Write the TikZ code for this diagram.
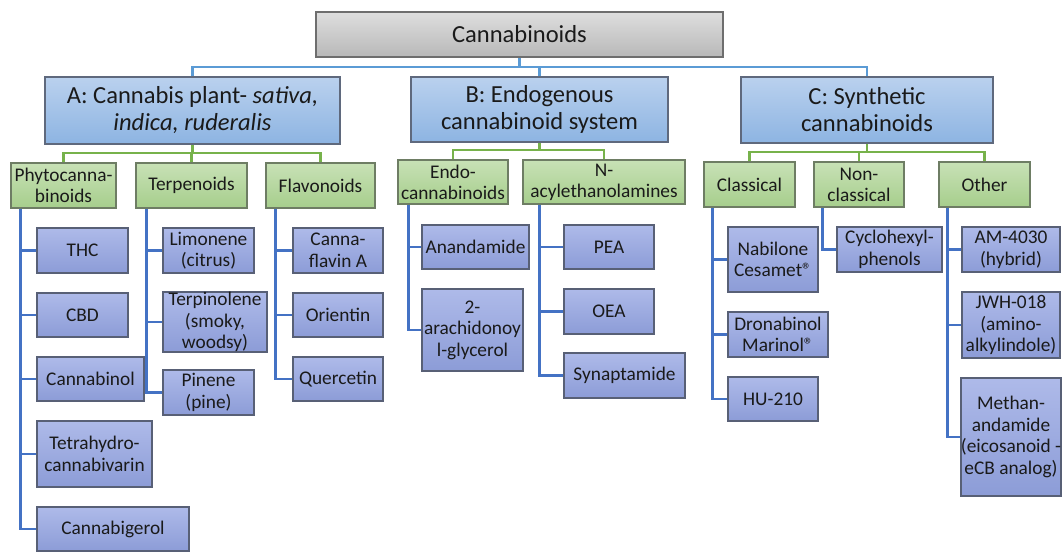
\documentclass[tikz,border=0pt]{standalone}
\usepackage{fontspec}
\setmainfont{Carlito}
\usetikzlibrary{calc,shadows}
\definecolor{txt}{HTML}{1A1A1A}
\definecolor{busblue}{HTML}{5B9BD5}
\definecolor{busgreen}{HTML}{77B24B}
\definecolor{leafline}{HTML}{4472C4}
\newcommand{\mybox}[7]{\node[#2, minimum width={(#5-#3)*0.75pt}, minimum height={(#6-#4)*0.75pt}] (#1) at ({(#3+#5)/2},{(#4+#6)/2}) {#7};}
\tikzset{
  basebox/.style={rectangle, inner sep=0pt, align=center, text=txt, line width=1pt,
    drop shadow={opacity=0.3, shadow xshift=0.9pt, shadow yshift=-0.9pt}},
  rootbox/.style={basebox, top color={rgb,255:red,222;green,222;blue,222}, bottom color={rgb,255:red,184;green,184;blue,184},
    draw={rgb,255:red,110;green,110;blue,110}, font=\fontsize{18.4}{20.3}\selectfont},
  lvlone/.style={basebox, top color={rgb,255:red,186;green,209;blue,238}, bottom color={rgb,255:red,141;green,180;blue,226},
    draw={rgb,255:red,95;green,105;blue,125}, font=\fontsize{18.4}{20.3}\selectfont},
  grp/.style={basebox, top color={rgb,255:red,200;green,225;blue,182}, bottom color={rgb,255:red,166;green,206;blue,140},
    draw={rgb,255:red,110;green,125;blue,100}, font=\fontsize{14.5}{15.6}\selectfont},
  leaf/.style={basebox, top color={rgb,255:red,174;green,186;blue,233}, bottom color={rgb,255:red,140;green,156;blue,215},
    draw={rgb,255:red,88;green,96;blue,118}, font=\fontsize{14.5}{16.2}\selectfont},
  topbus/.style={draw=busblue, line width=1.9pt},
  grpbus/.style={draw=busgreen, line width=1.9pt},
  leafbus/.style={draw=leafline, line width=1.9pt},
}
\begin{document}
\begin{tikzpicture}[x=0.75pt,y=-0.75pt]
\useasboundingbox (0,0) rectangle (1062,552);
% root and level one
\mybox{root}{rootbox}{316}{12}{723}{57}{Cannabinoids}
\mybox{A}{lvlone}{45}{77}{340}{144}{A: Cannabis plant- \textit{sativa,}\\\textit{indica, ruderalis}}
\mybox{B}{lvlone}{411}{77}{668}{142}{B: Endogenous\\cannabinoid system}
\mybox{C}{lvlone}{741}{77}{993}{143}{C: Synthetic\\cannabinoids}
% groups
\mybox{phy}{grp}{11}{163}{116}{208}{Phytocanna-\\binoids}
\mybox{ter}{grp}{136}{163}{247}{208}{Terpenoids}
\mybox{fla}{grp}{266}{163}{375}{208}{Flavonoids}
\mybox{endo}{grp}{398}{160}{508}{204}{Endo-\\cannabinoids}
\mybox{nac}{grp}{523}{160}{685}{204}{N-\\acylethanolamines}
\mybox{cla}{grp}{704}{162}{795}{207}{Classical}
\mybox{ncl}{grp}{814}{162}{904}{207}{Non-\\classical}
\mybox{oth}{grp}{939}{162}{1030}{207}{Other}
% leaves
\mybox{thc}{leaf}{37}{228}{128}{273}{THC}
\mybox{cbd}{leaf}{37}{293}{128}{337}{CBD}
\mybox{cbn}{leaf}{37}{357}{144}{401}{Cannabinol}
\mybox{thcv}{leaf}{37}{421}{152}{487}{Tetrahydro-\\cannabivarin}
\mybox{cbg}{leaf}{37}{507}{189}{551}{Cannabigerol}
\mybox{lim}{leaf}{163}{228}{254}{273}{Limonene\\(citrus)}
\mybox{terp}{leaf}{163}{293}{267}{351}{Terpinolene\\(smoky,\\woodsy)}
\mybox{pin}{leaf}{163}{370}{254}{415}{Pinene\\(pine)}
\mybox{cfa}{leaf}{293}{228}{383}{273}{Canna-\\flavin A}
\mybox{ori}{leaf}{293}{293}{383}{337}{Orientin}
\mybox{que}{leaf}{293}{357}{383}{401}{Quercetin}
\mybox{ana}{leaf}{422}{225}{529}{269}{Anandamide}
\mybox{ag}{leaf}{422}{289}{523}{371}{2-\\arachidonoy\\l-glycerol}
\mybox{pea}{leaf}{564}{225}{654}{269}{PEA}
\mybox{oea}{leaf}{564}{289}{654}{334}{OEA}
\mybox{syn}{leaf}{564}{353}{685}{398}{Synaptamide}
\mybox{nab}{leaf}{728}{227}{818}{292}{Nabilone\\Cesamet®}
\mybox{dro}{leaf}{728}{312}{828}{357}{Dronabinol\\Marinol®}
\mybox{hu}{leaf}{728}{377}{818}{421}{HU-210}
\mybox{cyc}{leaf}{837}{227}{942}{272}{Cyclohexyl-\\phenols}
\mybox{am}{leaf}{962}{227}{1060}{272}{AM-4030\\(hybrid)}
\mybox{jwh}{leaf}{962}{292}{1060}{358}{JWH-018\\(amino-\\alkylindole)}
\mybox{met}{leaf}{962}{378}{1060}{496}{Methan-\\andamide\\(eicosanoid -\\eCB analog)}
% top bus
\coordinate (tb) at (0,67);
\draw[topbus] (root.south) -- (root.south |- tb);
\draw[topbus] (A.north) -- (A.north |- tb) -- (C.north |- tb) -- (C.north);
\draw[topbus] (B.north) -- (B.north |- tb);
% group buses
\coordinate (ga) at (0,153);
\coordinate (gb) at (0,150);
\coordinate (gc) at (0,152);
\draw[grpbus] (A.south) -- (A.south |- ga);
\draw[grpbus] (phy.north) -- (phy.north |- ga) -- (fla.north |- ga) -- (fla.north);
\draw[grpbus] (ter.north) -- (ter.north |- ga);
\draw[grpbus] (B.south) -- (B.south |- gb);
\draw[grpbus] (endo.north) -- (endo.north |- gb) -- (nac.north |- gb) -- (nac.north);
\draw[grpbus] (C.south) -- (C.south |- gc);
\draw[grpbus] (cla.north) -- (cla.north |- gc) -- (oth.north |- gc) -- (oth.north);
\draw[grpbus] (ncl.north) -- (ncl.north |- gc);
% leaf connectors
\coordinate (pphy) at ($(phy.south west)+(10,0)$);
\coordinate (pter) at ($(ter.south west)+(11,0)$);
\coordinate (pfla) at ($(fla.south west)+(10,0)$);
\coordinate (pendo) at ($(endo.south west)+(11,0)$);
\coordinate (pnac) at ($(nac.south west)+(17,0)$);
\coordinate (pcla) at ($(cla.south west)+(9,0)$);
\coordinate (pncl) at ($(ncl.south west)+(9,0)$);
\coordinate (poth) at ($(oth.south west)+(9,0)$);
\foreach \p/\l in {pphy/thc,pphy/cbd,pphy/cbn,pphy/thcv,pphy/cbg,
  pter/lim,pter/terp,pter/pin,pfla/cfa,pfla/ori,pfla/que,
  pendo/ana,pendo/ag,pnac/pea,pnac/oea,pnac/syn,
  pcla/nab,pcla/dro,pcla/hu,pncl/cyc,poth/am,poth/jwh,poth/met}
  \draw[leafbus] (\p) |- (\l.west);
\end{tikzpicture}
\end{document}
